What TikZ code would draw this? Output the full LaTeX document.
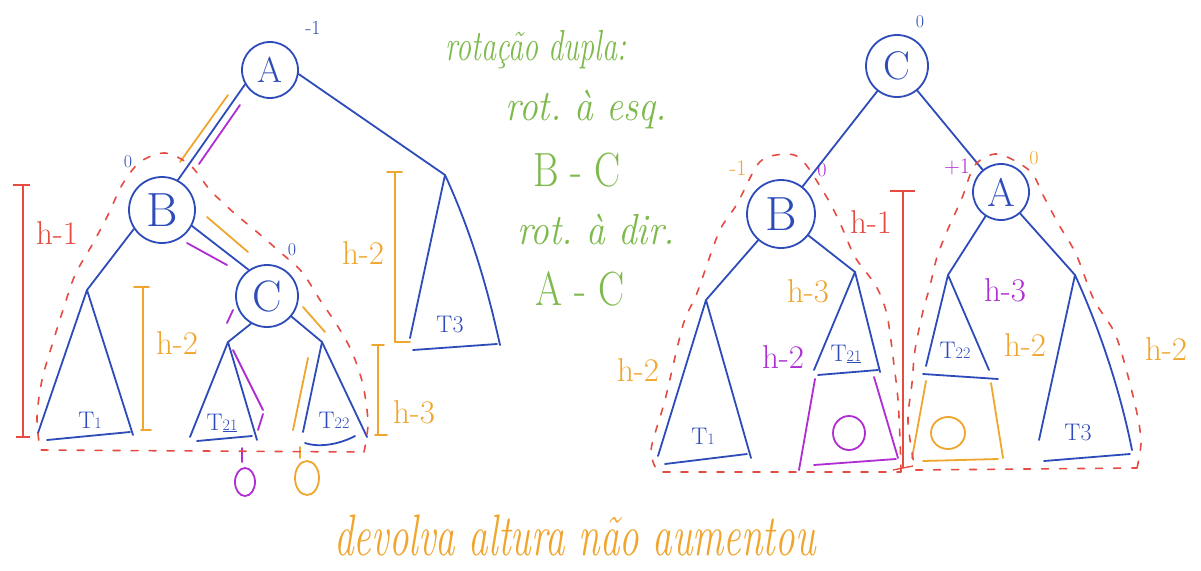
\documentclass[tikz,border=0pt]{standalone}
\usepackage{fontspec}
\definecolor{blueL}{RGB}{45,75,185}
\definecolor{orangeL}{RGB}{240,165,45}
\definecolor{purpleL}{RGB}{175,45,210}
\definecolor{redL}{RGB}{230,75,65}
\definecolor{greenL}{RGB}{125,185,75}
\tikzset{
  bl/.style={draw=blueL,line width=1.8pt,line cap=round,line join=round},
  circ/.style={circle,draw=blueL,line width=1.8pt,inner sep=0pt,text=blueL},
  org/.style={draw=orangeL,line width=1.8pt,line cap=round},
  pur/.style={draw=purpleL,line width=1.8pt,line cap=round},
  rdash/.style={draw=redL,line width=1.6pt,dash pattern=on 7pt off 11pt,line cap=round},
  redline/.style={draw=redL,line width=1.3pt},
  txt/.style={inner sep=0pt},
  hl/.style={txt,font=\fontsize{33}{33}\selectfont},
  tl/.style={txt,text=blueL,font=\fontsize{24}{24}\selectfont},
  smalll/.style={txt,font=\fontsize{18}{18}\selectfont},
  gtext/.style={txt,text=greenL,font=\fontsize{30}{30}\selectfont\itshape},
}
\newcommand{\tsub}[1]{{\fontsize{16}{16}\selectfont #1}}
\begin{document}
\begin{tikzpicture}[x=1pt,y=-1pt]
\useasboundingbox (0,0) rectangle (1201,570);
\fill[white] (0,0) rectangle (1201,570);

% ---------------- left tree ----------------
\node[circ,minimum size=56pt,font=\fontsize{36}{36}\selectfont] (A) at (270,70) {A};
\node[circ,minimum size=66pt,font=\fontsize{48}{48}\selectfont] (B) at (162,210) {B};
\node[circ,minimum size=62pt,font=\fontsize{44}{44}\selectfont] (C) at (267,296) {C};
\node[txt,text=blueL,font=\fontsize{20}{20}\selectfont] (bfA) at (313,28) {-1};
\node[smalll,text=blueL] (bfB) at (128,162) {0};
\node[smalll,text=blueL] (bfC) at (292,250) {0};

\coordinate (t1) at (87,290);
\coordinate (t21) at (228,342);
\coordinate (t22) at (322,342);
\coordinate (t3) at (445,175);

\draw[bl] (B.62) -- (A.210);
\draw[bl] (A.-8) -- (t3);
\draw[bl] (B.214) -- (t1);
\draw[bl] (B.-28) -- (C.125);
\draw[bl] (C.240) -- (t21);
\draw[bl] (C.-40) -- (t22);

% subtrees
\draw[bl] (38,433) -- (t1) -- (133,435);
\draw[bl] (47,440) -- (130,432);
\node[tl] (lT1) at (90,420) {T\tsub{1}};
\draw[bl] (190,437) -- (t21) -- (257,440);
\draw[bl] (197,441) -- (252,436);
\node[tl] (lT21) at (222,423) {T\tsub{\underline{21}}};
\draw[bl] (303,432) -- (t22) -- (367,437);
\draw[bl] (305,443) .. controls (320,448) and (340,444) .. (355,436);
\node[tl] (lT22) at (334,420) {T\tsub{22}};
\draw[bl] (410,338) -- (t3) .. controls (475,240) and (490,300) .. (500,345);
\draw[bl] (413,350) -- (497,344);
\node[tl] (lT3) at (450,325) {T3};

% coloured marks along the path
\draw[org] (180,162) -- (228,95);
\draw[pur] (199,164) -- (240,105);
\draw[org] (207,217) -- (248,252);
\draw[pur] (187,243) -- (227,265);
\draw[pur] (233,310) -- (227,323);
\draw[pur] (233,350) -- (263,410);
\draw[pur] (263,414) -- (258,430);
\draw[org] (303,307) -- (325,332);
\draw[org] (308,358) -- (293,430);
\draw[pur] (242,448) -- (242,462);
\draw[pur] (245,482) ellipse [x radius=10pt, y radius=14pt];
\draw[org] (300,447) -- (300,458);
\draw[org] (307,478) ellipse [x radius=12pt, y radius=17pt];

% brackets
\draw[redline] (23,185) -- (23,437);
\draw[redline] (13,185) -- (30,185);
\draw[redline] (16,437) -- (30,437);
\node[hl,text=redL] (lh1) at (57,233) {h-1};
\draw[org] (143,287) -- (143,430);
\draw[org] (134,287) -- (149,287);
\draw[org] (141,430) -- (151,430);
\node[hl,text=orangeL] (lh2a) at (177,343) {h-2};
\draw[org] (395,172) -- (395,342);
\draw[org] (387,172) -- (402,172);
\draw[org] (395,342) -- (410,342);
\node[hl,text=orangeL] (lh2b) at (363,253) {h-2};
\draw[org] (378,345) -- (378,435);
\draw[org] (372,345) -- (384,345);
\draw[org] (375,435) -- (387,435);
\node[hl,text=orangeL] (lh3) at (414,412) {h-3};

% red dashed outline
\draw[rdash] plot[smooth] coordinates {(364,452) (368,423) (363,385) (352,352) (337,325) (320,300) (302,272) (280,252) (257,232) (233,212) (210,190) (190,165) (165,153) (140,162) (122,185) (108,215) (92,245) (75,275) (63,310) (52,345) (42,380) (37,417) (40,450)} -- cycle;

% ---------------- middle text ----------------
\node[gtext] (g1) at (536,50) {\scalebox{1}[1.45]{rotação dupla:}};
\node[gtext] (g2) at (586,110) {\scalebox{1.25}[1.45]{rot.\ à\ esq.}};
\node[gtext] (g3) at (577,170) {\scalebox{1.3}[1.6]{\upshape B - C}};
\node[gtext] (g4) at (596,230) {\scalebox{1.25}[1.45]{rot.\ à\ dir.}};
\node[gtext] (g5) at (580,289) {\scalebox{1.3}[1.6]{\upshape A - C}};
\node[txt,text=orangeL,font=\fontsize{39}{39}\selectfont\itshape] (bot) at (575,535) {\scalebox{1}[1.5]{devolva altura não aumentou}};

% ---------------- right tree ----------------
\node[circ,minimum size=62pt,font=\fontsize{40}{40}\selectfont] (C2) at (897,66) {C};
\node[circ,minimum size=68pt,font=\fontsize{48}{48}\selectfont] (B2) at (781,214) {B};
\node[circ,minimum size=56pt,font=\fontsize{40}{40}\selectfont] (A2) at (1001,192) {A};
\node[smalll,text=blueL] (bfC2) at (920,22) {0};
\node[txt,text=orangeL,font=\fontsize{22}{22}\selectfont] (bfB2) at (738,168) {-1};
\node[txt,text=purpleL,font=\fontsize{20}{20}\selectfont] (bfB2b) at (822,170) {0};
\node[txt,text=purpleL,font=\fontsize{22}{22}\selectfont] (bfA2) at (957,167) {+1};
\node[txt,text=orangeL,font=\fontsize{20}{20}\selectfont] (bfA2b) at (1034,158) {0};

\coordinate (r1) at (706,300);
\coordinate (r21) at (855,272);
\coordinate (r22) at (948,275);
\coordinate (r3) at (1075,275);

\draw[bl] (C2) -- (B2);
\draw[bl] (C2) -- (A2);
\draw[bl] (B2) -- (r1);
\draw[bl] (B2) -- (r21);
\draw[bl] (A2) -- (r22);
\draw[bl] (A2) -- (r3);

\draw[bl] (658,456) -- (r1) -- (751,458);
\draw[bl] (665,464) -- (747,454);
\node[tl] (rT1) at (703,436) {T\tsub{1}};
\draw[bl] (814,370) -- (r21) -- (880,372);
\draw[bl] (818,375) -- (878,370);
\node[tl] (rT21) at (846,354) {T\tsub{\underline{21}}};
\draw[pur] (815,379) -- (799,470);
\draw[pur] (874,377) -- (898,458);
\draw[pur] (814,465) -- (896,459);
\draw[pur] (849,433) ellipse [x radius=16pt, y radius=17pt];
\draw[bl] (926,366) -- (r22) -- (989,370);
\draw[bl] (923,374) -- (998,379);
\node[tl] (rT22) at (955,350) {T\tsub{22}};
\draw[org] (926,381) -- (912,458);
\draw[org] (991,383) -- (1003,458);
\draw[org] (923,461) -- (998,459);
\draw[org] (948,433) ellipse [x radius=17pt, y radius=16pt];
\draw[bl] (1039,440) -- (r3) .. controls (1100,330) and (1120,390) .. (1132,450);
\draw[bl] (1044,461) -- (1130,454);
\node[tl] (rT3) at (1078,433) {T3};

\node[hl,text=orangeL] (rh3a) at (808,291) {h-3};
\node[hl,text=purpleL] (rh2a) at (783,357) {h-2};
\node[hl,text=orangeL] (rh2b) at (638,370) {h-2};
\node[hl,text=redL] (rh1) at (871,222) {h-1};
\node[hl,text=purpleL] (rh3b) at (1005,290) {h-3};
\node[hl,text=orangeL] (rh2c) at (1025,345) {h-2};
\node[hl,text=orangeL] (rh2d) at (1166,349) {h-2};

\draw[redline] (903,191) -- (903,468);
\draw[redline] (890,191) -- (915,191);
\draw[redline] (893,470) -- (913,466);

\draw[rdash] plot[smooth] coordinates {(901,472) (900,440) (898,400) (894,365) (887,315) (876,286) (855,257) (840,223) (826,196) (800,158) (776,155) (758,164) (737,204) (719,232) (697,293) (683,325) (665,400) (651,450) (658,472)} -- cycle;
\draw[rdash] plot[smooth] coordinates {(1137,468) (1141,440) (1134,400) (1116,336) (1094,300) (1076,254) (1059,225) (1044,197) (1030,171) (998,154) (975,165) (962,198) (948,229) (937,257) (930,286) (923,311) (915,350) (912,383) (908,422) (915,470)} -- cycle;
\end{tikzpicture}
\end{document}
